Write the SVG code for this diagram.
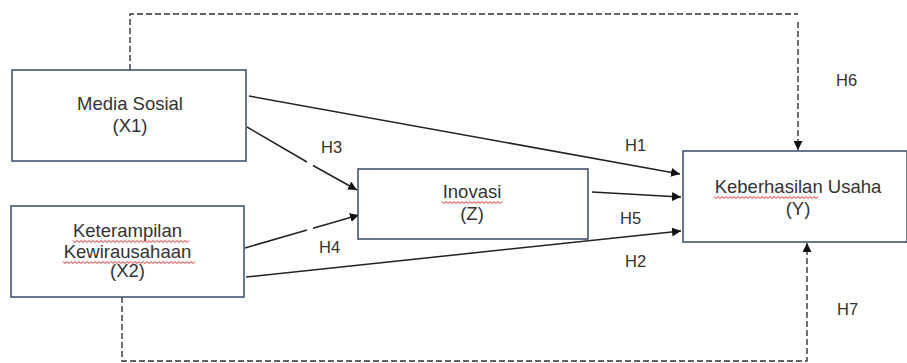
<svg xmlns="http://www.w3.org/2000/svg" width="907" height="363" viewBox="0 0 907 363">
<style>
.box{fill:#fff;stroke:#3b4a66;stroke-width:1.5}
.t{font-family:"Liberation Sans",Arial,sans-serif;font-size:18.5px;fill:#333;text-anchor:middle}
.h{font-family:"Liberation Sans",Arial,sans-serif;font-size:16.5px;fill:#333}
.ln{fill:none;stroke:#222;stroke-width:1.5}
.dash{fill:none;stroke:#333;stroke-width:1.4;stroke-dasharray:6 3}
.sq{fill:none;stroke:#e02020;stroke-width:1}
</style>
<defs>
<marker id="a2" viewBox="0 0 10 10" refX="10" refY="5" markerWidth="9" markerHeight="9" markerUnits="userSpaceOnUse" orient="auto">
<path d="M0,0 L10,5 L0,10 Z" fill="#111"/>
</marker>
</defs>
<g id="connectors">
<path class="dash" d="M130,70 V14 H798"/>
<path class="dash" d="M798,22 V150" marker-end="url(#a2)"/>
<path class="dash" d="M122,297 V361 H807 V243" marker-end="url(#a2)"/>
<path class="ln" d="M249,96 L680,174" marker-end="url(#a2)"/>
<path class="ln" d="M247,127 L307,162"/>
<path class="ln" d="M313,165.5 L357,190" marker-end="url(#a2)"/>
<path class="ln" d="M245,248 L307,230"/>
<path class="ln" d="M313,228.3 L359,215" marker-end="url(#a2)"/>
<path class="ln" d="M592,192 L681,197" marker-end="url(#a2)"/>
<path class="ln" d="M246,277 L681,231" marker-end="url(#a2)"/>
<text class="h" x="321" y="153">H3</text>
<text class="h" x="319" y="253">H4</text>
<text class="h" x="625" y="151">H1</text>
<text class="h" x="836" y="86">H6</text>
<text class="h" x="620" y="224">H5</text>
<text class="h" x="625" y="267">H2</text>
<text class="h" x="837" y="315">H7</text>
</g>
<g id="x1">
<rect class="box" x="12" y="70" width="234" height="91"/>
<text class="t" x="130" y="110">Media Sosial</text>
<text class="t" x="130" y="132">(X1)</text>
</g>
<g id="x2">
<rect class="box" x="11" y="206" width="233" height="91"/>
<text class="t" x="127.5" y="237">Keterampilan</text>
<path class="sq" d="M73,240.5 l2,2 l2,-2 l2,2 l2,-2 l2,2 l2,-2 l2,2 l2,-2 l2,2 l2,-2 l2,2 l2,-2 l2,2 l2,-2 l2,2 l2,-2 l2,2 l2,-2 l2,2 l2,-2 l2,2 l2,-2 l2,2 l2,-2 l2,2 l2,-2 l2,2 l2,-2 l2,2 l2,-2 l2,2 l2,-2 l2,2 l2,-2 l2,2 l2,-2 l2,2 l2,-2 l2,2 l2,-2 l2,2 l2,-2 l2,2 l2,-2 l2,2 l2,-2 l2,2 l2,-2 l2,2 l2,-2 l2,2 l2,-2 l2,2 l2,-2 l2,2 l2,-2 l2,2 l2,-2"/>
<text class="t" x="127.5" y="258">Kewirausahaan</text>
<path class="sq" d="M63,261.5 l2,2 l2,-2 l2,2 l2,-2 l2,2 l2,-2 l2,2 l2,-2 l2,2 l2,-2 l2,2 l2,-2 l2,2 l2,-2 l2,2 l2,-2 l2,2 l2,-2 l2,2 l2,-2 l2,2 l2,-2 l2,2 l2,-2 l2,2 l2,-2 l2,2 l2,-2 l2,2 l2,-2 l2,2 l2,-2 l2,2 l2,-2 l2,2 l2,-2 l2,2 l2,-2 l2,2 l2,-2 l2,2 l2,-2 l2,2 l2,-2 l2,2 l2,-2 l2,2 l2,-2 l2,2 l2,-2 l2,2 l2,-2 l2,2 l2,-2 l2,2 l2,-2 l2,2 l2,-2 l2,2 l2,-2 l2,2 l2,-2 l2,2 l2,-2 l2,2 l2,-2"/>
<text class="t" x="127.5" y="277">(X2)</text>
</g>
<g id="z">
<rect class="box" x="358" y="169" width="230" height="70"/>
<text class="t" x="472" y="198">Inovasi</text>
<path class="sq" d="M442,201.5 l2,2 l2,-2 l2,2 l2,-2 l2,2 l2,-2 l2,2 l2,-2 l2,2 l2,-2 l2,2 l2,-2 l2,2 l2,-2 l2,2 l2,-2 l2,2 l2,-2 l2,2 l2,-2 l2,2 l2,-2 l2,2 l2,-2 l2,2 l2,-2 l2,2 l2,-2 l2,2 l2,-2"/>
<text class="t" x="472" y="220">(Z)</text>
</g>
<g id="y">
<rect class="box" x="683" y="151" width="224" height="91"/>
<text class="t" x="798" y="193">Keberhasilan Usaha</text>
<path class="sq" d="M714,196.5 l2,2 l2,-2 l2,2 l2,-2 l2,2 l2,-2 l2,2 l2,-2 l2,2 l2,-2 l2,2 l2,-2 l2,2 l2,-2 l2,2 l2,-2 l2,2 l2,-2 l2,2 l2,-2 l2,2 l2,-2 l2,2 l2,-2 l2,2 l2,-2 l2,2 l2,-2 l2,2 l2,-2 l2,2 l2,-2 l2,2 l2,-2 l2,2 l2,-2 l2,2 l2,-2 l2,2 l2,-2 l2,2 l2,-2 l2,2 l2,-2 l2,2 l2,-2 l2,2 l2,-2 l2,2 l2,-2 l2,2 l2,-2"/>
<text class="t" x="798" y="215">(Y)</text>
</g>
</svg>
